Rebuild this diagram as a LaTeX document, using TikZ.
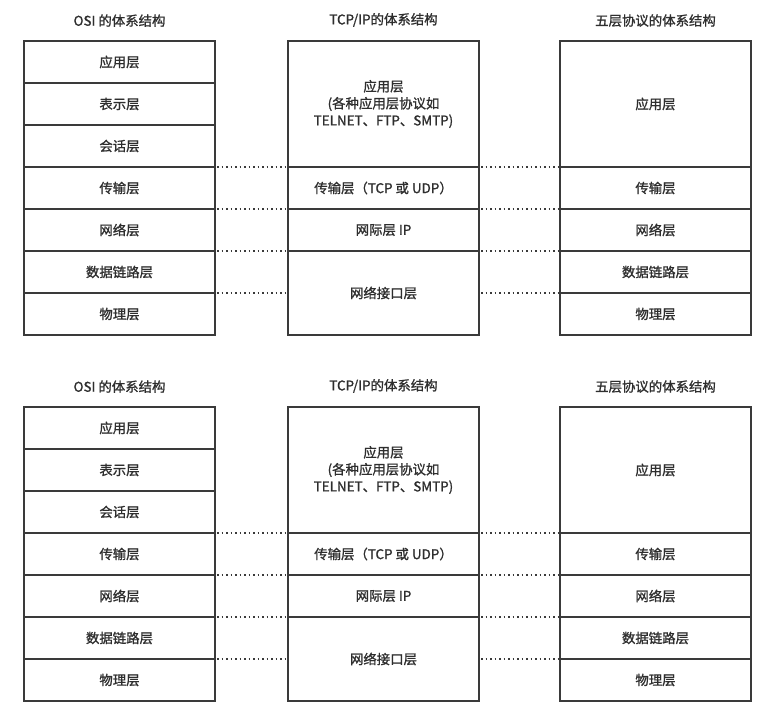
\documentclass[tikz,border=0pt]{standalone}
\usepackage{fontspec}
\setmainfont{Noto Sans CJK SC}[FakeBold=1.2]
\usepackage{xcolor}
\usetikzlibrary{positioning}
\definecolor{linegray}{HTML}{3A3A3A}
\definecolor{textgray}{HTML}{2E2E2E}
\tikzset{
  layer/.style={draw=linegray, line width=2pt, minimum width=191pt, minimum height=42pt,
    outer sep=0pt, inner sep=0pt, align=center, text=textgray, font=\fontsize{13.4}{17}\selectfont},
  heading/.style={text=textgray, inner sep=0pt, font=\fontsize{13.4}{17}\selectfont},
  peer/.style={draw=linegray, line width=1.7pt, dash pattern=on 1.7pt off 2.8pt, shorten <=2pt, shorten >=2pt}
}

\begin{document}
\begin{tikzpicture}[x=1pt,y=1pt]
    \useasboundingbox (0,0) rectangle (770,-722);
    \foreach \p/\oy in {t/0, b/-366} {
    % OSI
    \node[layer] (\p o1) at (119.5,\oy-62) {应用层};
    \node[layer, below = 0pt of \p o1] (\p o2) {表示层};
    \node[layer, below = 0pt of \p o2] (\p o3) {会话层};
    \node[layer, below = 0pt of \p o3] (\p o4) {传输层};
    \node[layer, below = 0pt of \p o4] (\p o5) {网络层};
    \node[layer, below = 0pt of \p o5] (\p o6) {数据链路层};
    \node[layer, below = 0pt of \p o6] (\p o7) {物理层};
    \node[heading, above = 14pt of \p o1] (\p ot) {OSI 的体系结构};
    % TCP/IP
    \node[layer, minimum height=126pt] (\p m1) at (383.5,\oy-104) {应用层\\(各种应用层协议如\\TELNET、FTP、SMTP)};
    \node[layer, below = 0pt of \p m1] (\p m2) {传输层（TCP 或 UDP）};
    \node[layer, below = 0pt of \p m2] (\p m3) {网际层 IP};
    \node[layer, below = 0pt of \p m3, minimum height=84pt] (\p m4) {网络接口层};
    \node[heading, above = 14pt of \p m1] (\p mt) {TCP/IP的体系结构};
    % five layers
    \node[layer, minimum height=126pt] (\p f1) at (655.5,\oy-104) {应用层};
    \node[layer, below = 0pt of \p f1] (\p f2) {传输层};
    \node[layer, below = 0pt of \p f2] (\p f3) {网络层};
    \node[layer, below = 0pt of \p f3] (\p f4) {数据链路层};
    \node[layer, below = 0pt of \p f4] (\p f5) {物理层};
    \node[heading, above = 14pt of \p f1] (\p ft) {五层协议的体系结构};
    % dotted links
    \path[peer] (\p o4.north east) -- (\p m2.north west);
    \path[peer] (\p o5.north east) -- (\p m3.north west);
    \path[peer] (\p o6.north east) -- (\p m4.north west);
    \path[peer] (\p o7.north east) -- (\p m4.west);
    \path[peer] (\p m2.north east) -- (\p f2.north west);
    \path[peer] (\p m3.north east) -- (\p f3.north west);
    \path[peer] (\p m4.north east) -- (\p f4.north west);
    \path[peer] (\p m4.east) -- (\p f5.north west);
    }
\end{tikzpicture}
\end{document}
